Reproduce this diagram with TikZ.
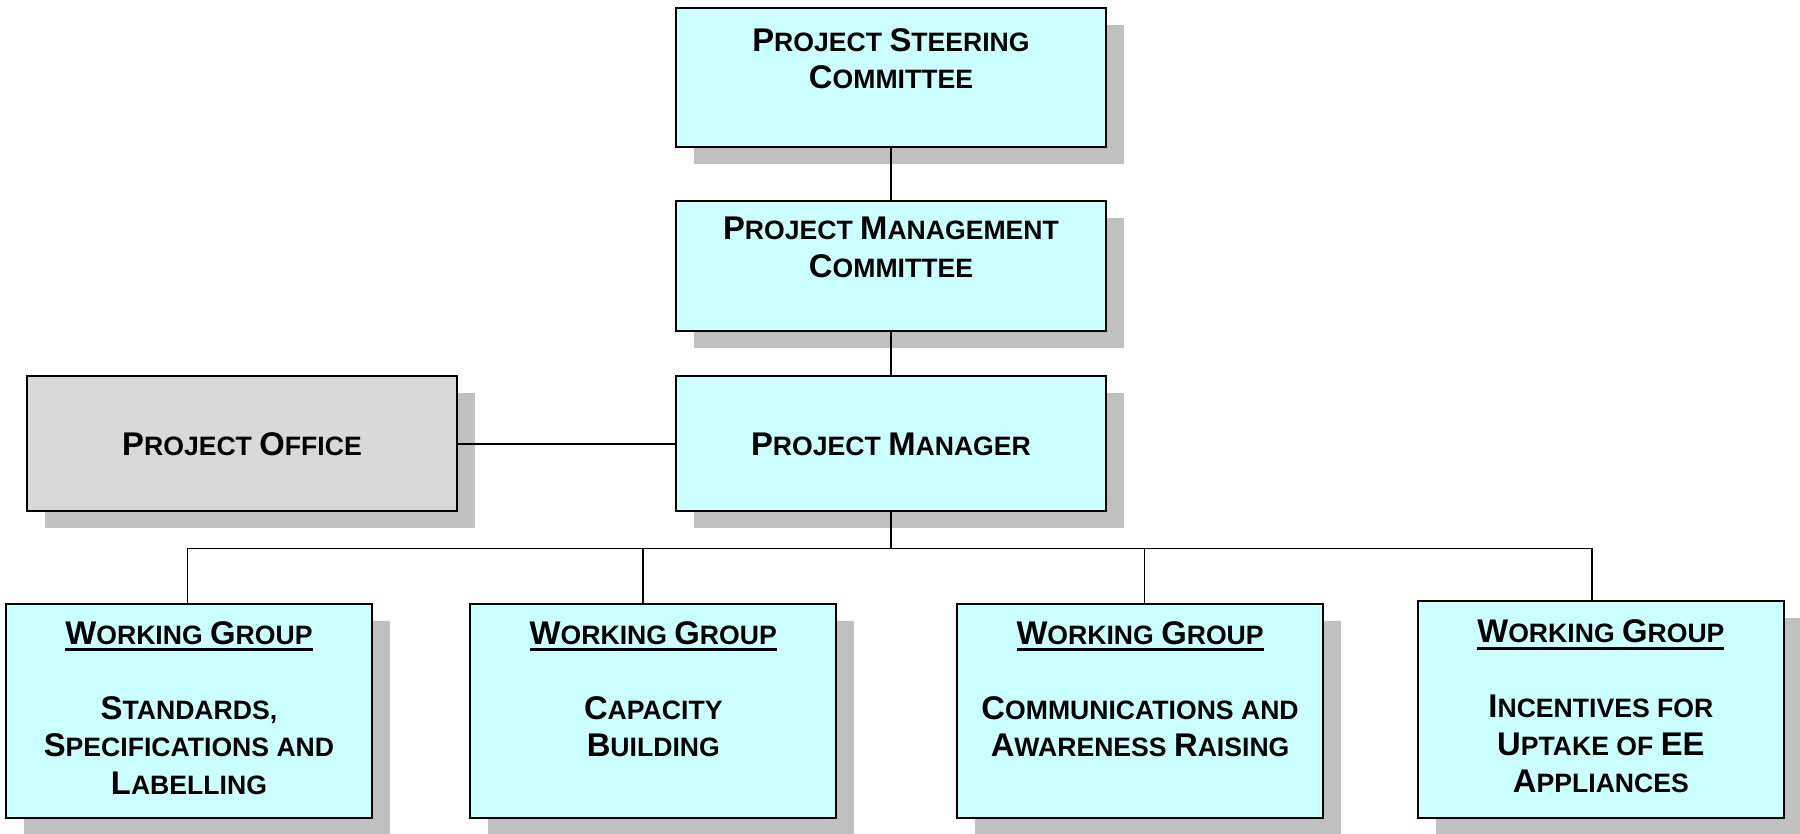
\documentclass[tikz,border=0pt]{standalone}
\usepackage{fontspec}
\setmainfont{Liberation Sans}
\usetikzlibrary{shapes,arrows,positioning,shadows}
\definecolor{boxcyan}{HTML}{CCFFFF}
\definecolor{boxgray}{HTML}{D9D9D9}
\definecolor{shadowgray}{HTML}{C0C0C0}
\newcommand\capl[1]{{\fontsize{16.4pt}{18.75pt}\selectfont #1}}
\newcommand\ghead[1]{\leavevmode\setbox0\hbox{#1}\rlap{\rule[-3.6pt]{\wd0}{1.4pt}}\box0}
\newcommand\blankline{\phantom{\capl{X}}}
\newcommand\lowpad{\rule[-3pt]{0pt}{3pt}}
\tikzstyle{block} = [draw, fill=boxcyan, rectangle, line width=1pt, minimum width=215pt, minimum height=67.6pt, align=center, font=\fontsize{13.3pt}{18.75pt}\selectfont\bfseries, drop shadow={shadow xshift=9pt, shadow yshift=-8.5pt, fill=shadowgray, opacity=1}]
\tikzstyle{grayblock} = [block, fill=boxgray]
\tikzstyle{group} = [block, minimum width=182.9pt, minimum height=107.1pt]
\tikzstyle{link} = [draw, line width=0.8pt]

\begin{document}
\begin{tikzpicture}
 \useasboundingbox (-445.5pt,38.75pt) rectangle (454.5pt,-378.25pt);
 % nodes
    \node [block, minimum height=69.6pt, name=steering] {\capl{P}ROJECT \capl{S}TEERING\\\capl{C}OMMITTEE\\\blankline};
    \node [block, minimum height=65.1pt, below=26pt of steering, name=management] {\capl{P}ROJECT \capl{M}ANAGEMENT\\\capl{C}OMMITTEE\\\blankline};
    \node [block, below=21.5pt of management, name=manager] {\capl{P}ROJECT \capl{M}ANAGER};
    \node [grayblock, left=108.5pt of manager, name=office] {\capl{P}ROJECT \capl{O}FFICE};
    \node [group, below=45pt of office, xshift=-26.5pt, name=standards] {\ghead{\capl{W}ORKING \capl{G}ROUP}\\[18.75pt]\capl{S}TANDARDS,\\\capl{S}PECIFICATIONS AND\\\capl{L}ABELLING\lowpad};
    \node [group, right=48.25pt of standards, name=capacity] {\ghead{\capl{W}ORKING \capl{G}ROUP}\\[18.75pt]\capl{C}APACITY\\\capl{B}UILDING\\\blankline\lowpad};
    \node [group, right=59.5pt of capacity, name=awareness] {\ghead{\capl{W}ORKING \capl{G}ROUP}\\[18.75pt]\capl{C}OMMUNICATIONS AND\\\capl{A}WARENESS \capl{R}AISING\\\blankline\lowpad};
    \node [group, minimum height=108.6pt, right=46.5pt of awareness, yshift=0.75pt, name=incentives] {\ghead{\capl{W}ORKING \capl{G}ROUP}\\[18.75pt]\capl{I}NCENTIVES FOR\\\capl{U}PTAKE OF \capl{EE}\\\capl{A}PPLIANCES\lowpad};
    \coordinate (fork) at ([yshift=-18pt]manager.south);
    % edges
    \draw [link] (steering) -- (management);
    \draw [link] (management) -- (manager);
    \draw [link] (office) -- (manager);
    \draw [link] (manager) -- (fork) -| ([xshift=-0.7pt]standards.north);
    \draw [link] (fork) -| ([xshift=-5pt]capacity.north);
    \draw [link] (fork) -| ([xshift=2.25pt]awareness.north);
    \draw [link] (fork) -| ([xshift=-4.5pt]incentives.north);
\end{tikzpicture}
\end{document}
